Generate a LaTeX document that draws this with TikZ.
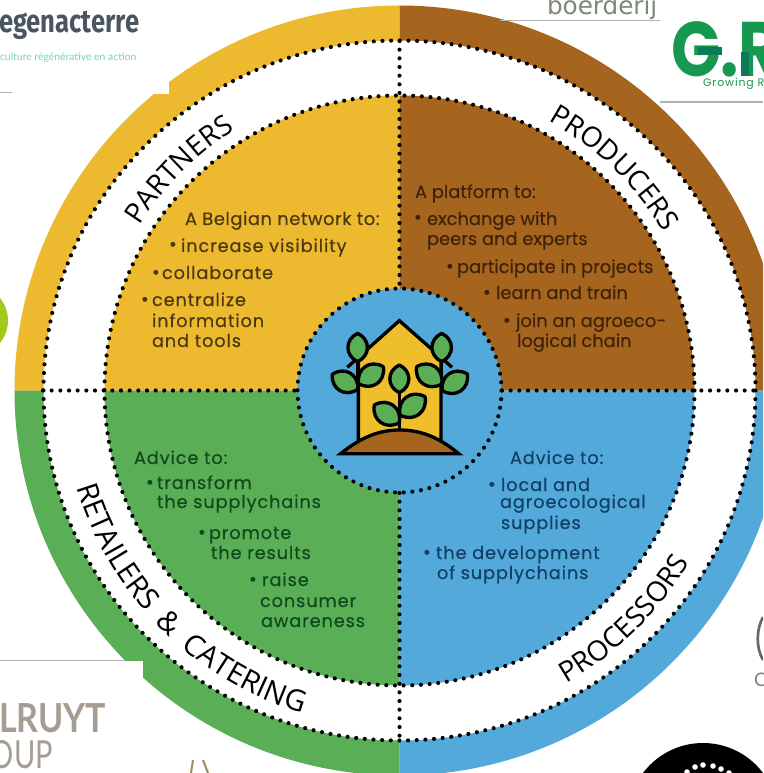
\documentclass[tikz,border=0pt]{standalone}
\usepackage{fontspec}
\usetikzlibrary{decorations.text}
\setmainfont{Poppins}
\newfontfamily\popf[FakeBold=0.25]{Poppins}
\newfontfamily\popw[LetterSpace=5,FakeBold=0.25]{Poppins}
\newfontfamily\popg[LetterSpace=8]{Poppins}
\newfontfamily\logof{Poppins}
\newfontfamily\arcf[LetterSpace=4]{Open Sans}
\newfontfamily\arcw[LetterSpace=23]{Open Sans}
\newfontfamily\firaf{Fira Sans}
\newfontfamily\latof{Lato}
\newfontfamily\dejaf{DejaVu Sans}
\definecolor{cyel}{HTML}{EDB92F}
\definecolor{cbro}{HTML}{A6651E}
\definecolor{cblu}{HTML}{52A9DA}
\definecolor{cgre}{HTML}{5AAE55}
\definecolor{tyel}{HTML}{4A3810}
\definecolor{tbro}{HTML}{3E2208}
\definecolor{tgre}{HTML}{0E4A1C}
\definecolor{tblu}{HTML}{113F66}
\definecolor{lreg}{HTML}{4A5560}
\definecolor{lteal}{HTML}{6FD4C8}
\definecolor{lboer}{HTML}{7C8A72}
\definecolor{lgr}{HTML}{16994F}
\definecolor{lgrd}{HTML}{0B7A58}
\definecolor{lcol}{HTML}{A59C92}
\definecolor{llime}{HTML}{A5C91A}
\definecolor{lmark}{HTML}{9C8B5C}
\tikzset{
 dotline/.style={draw=black,line width=3.1pt,line cap=round,dash pattern=on 0pt off 6.5pt},
 body/.style={anchor=base west,inner sep=0pt,outer sep=0pt,font=\popw\fontsize{13.3}{13.3}\selectfont},
 bodyb/.style={anchor=base west,inner sep=0pt,outer sep=0pt,font=\popf\fontsize{13.4}{13.4}\selectfont},
 bul/.style={anchor=base,inner sep=0pt,outer sep=0pt,font=\logof\fontsize{15}{15}\selectfont},
 logo/.style={anchor=base west,inner sep=0pt,outer sep=0pt},
 leaf/.style={draw=black,line width=2.5pt,fill=cgre,line join=round},
 ink/.style={draw=black,line width=2.5pt,line join=miter},
 rule/.style={draw=black!30,line width=0.8pt}
}
\begin{document}
\begin{tikzpicture}[x=0.75pt,y=-0.75pt]
\useasboundingbox (0,0) rectangle (763,773);
\clip (0,0) rectangle (763,773);
\coordinate (c) at (399.5,390.5);
% coloured disc
\fill[cyel] (c) -- ++(-180:385) arc (-180:-90:385) -- cycle;
\fill[cbro] (c) -- ++(-90:385) arc (-90:0:385) -- cycle;
\fill[cblu] (c) -- ++(0:385) arc (0:90:385) -- cycle;
\fill[cgre] (c) -- ++(90:385) arc (90:180:385) -- cycle;
% white ring
\fill[white] (c) ellipse [x radius=356,y radius=350];
% inner quadrants
\fill[cyel] (c) -- ++(-180:295) arc (-180:-90:295) -- cycle;
\fill[cbro] (c) -- ++(-90:295) arc (-90:0:295) -- cycle;
\fill[cblu] (c) -- ++(0:295) arc (0:90:295) -- cycle;
\fill[cgre] (c) -- ++(90:295) arc (90:180:295) -- cycle;
% centre
\fill[cblu] (c) circle (102);
% dotted rules
\draw[dotline] (c) ellipse [x radius=356,y radius=350];
\draw[dotline] (c) circle (295);
\draw[dotline] (c) circle (102);
\draw[dotline] (43,390.5) -- (297,390.5);
\draw[dotline] (502,390.5) -- (755,390.5);
\draw[dotline] (399.5,41) -- (399.5,288);
\draw[dotline] (399.5,493) -- (399.5,740);
% ring labels
\path[decorate,decoration={text along path,text align=center,text={|\arcf\fontsize{21}{21}\selectfont|PARTNERS}}]
 (c) ++(-170:308) arc (-170:-100:308);
\path[decorate,decoration={text along path,text align=center,text={|\arcf\fontsize{21}{21}\selectfont|PRODUCERS}}]
 (c) ++(-81:308) arc (-81:-11:308);
\path[decorate,decoration={text along path,text align=center,text={|\arcw\fontsize{22}{22}\selectfont|RETAILERS {\&} CATERING}}]
 (c) ++(-170:337) arc (-170:-280:337);
\path[decorate,decoration={text along path,text align=center,text={|\arcf\fontsize{21}{21}\selectfont|PROCESSORS}}]
 (c) ++(84.5:337) arc (84.5:6.5:337);
% house, in a 3x frame
\begin{scope}[shift={(290,280)},x=0.25pt,y=-0.25pt]
 \filldraw[ink,fill=cyel!92!yellow] (328,122) -- (205,232) -- (205,490) -- (453,490) -- (453,232) -- cycle;
 \draw[ink] (205,232) -- (172,262);
 \draw[ink] (453,232) -- (486,262);
 \draw[ink] (203,245) -- (203,330);
 \draw[ink] (455,245) -- (455,330);
 \draw[ink] (328,338) -- (328,455);
 \filldraw[ink,fill=cbro] (152,521) .. controls (215,470) and (270,450) .. (328,450) .. controls (390,450) and (445,470) .. (506,521) -- cycle;
 \foreach \ax/\ay/\bx/\by in {203/160/203/245,127/283/203/328,206/311/280/260,328/255/328/338,330/405/405/350,328/428/253/375,455/160/455/245,380/260/455/312,457/332/532/282}{
  \draw[leaf] (\ax,\ay) to[bend left=65,looseness=1.3] (\bx,\by) to[bend left=65,looseness=1.3] cycle;
 }
\end{scope}
% yellow block
\begin{scope}[every node/.append style={text=tyel}]
 \node[bodyb] (y0) at (185,225) {\addfontfeature{LetterSpace=3}A Belgian network to:};
 \node[bul] (yb1) at (173,252) {•};
 \node[body] (y1) at (181,252) {increase visibility};
 \node[bul] (yb2) at (156,279) {•};
 \node[body] (y2) at (162,279) {collaborate};
 \node[bul] (yb3) at (145,306) {•};
 \node[body] (y3) at (152,306) {centralize};
 \node[body] (y4) at (152,327) {information};
 \node[body] (y5) at (152,347) {and tools};
\end{scope}
\begin{scope}[every node/.append style={text=tbro}]
 \node[bodyb] (b0) at (415,198) {A platform to:};
 \node[bul] (bb1) at (418,225) {•};
 \node[bodyb] (b1) at (427,225) {exchange with};
 \node[bodyb] (b2) at (427,245) {peers and experts};
 \node[bul] (bb2) at (450,273) {•};
 \node[bodyb] (b3) at (457,273) {participate in projects};
 \node[bul] (bb3) at (487,299) {•};
 \node[bodyb] (b4) at (496,299) {learn and train};
 \node[bul] (bb4) at (507,327) {•};
 \node[bodyb] (b5) at (516,327) {join an agroeco-};
 \node[bodyb] (b6) at (517,347) {logical chain};
\end{scope}
\begin{scope}[every node/.append style={text=tgre}]
 \node[body] (g0) at (134,464) {Advice to:};
 \node[bul] (gb1) at (150,489) {•};
 \node[body] (g1) at (157,489) {transform};
 \node[body] (g2) at (157,508) {the supplychains};
 \node[bul] (gb2) at (202,539) {•};
 \node[body] (g3) at (209,539) {promote};
 \node[body] (g4) at (211,559) {the results};
 \node[bul] (gb3) at (253,586) {•};
 \node[body] (g5) at (262,586) {raise};
 \node[body] (g6) at (260,607) {consumer};
 \node[body] (g7) at (261,627) {awareness};
\end{scope}
\begin{scope}[every node/.append style={text=tblu}]
 \node[body] (l0) at (510,464) {Advice to:};
 \node[bul] (lb1) at (492,491) {•};
 \node[body] (l1) at (501,491) {local and};
 \node[body] (l2) at (500,508) {agroecological};
 \node[body] (l3) at (501,529) {supplies};
 \node[bul] (lb2) at (427,559) {•};
 \node[body] (l4) at (436,559) {the development};
 \node[body] (l5) at (437,579) {of supplychains};
\end{scope}
% pasted logos on white
\fill[white] (0,0) rectangle (169,94);
\fill[white] (0,661) rectangle (143,773);
\fill[white] (506,0) rectangle (660,20);
\fill[white] (660,20) rectangle (763,101);
\draw[rule] (0,92.5) -- (12,92.5);
\draw[rule] (0,660.5) -- (125,660.5);
\draw[rule] (500,20.5) -- (660,20.5);
\draw[rule] (660,102) -- (763,102);
\node[logo,text=lreg,font=\firaf\bfseries\fontsize{24}{24}\selectfont] (reg) at (-1,33) {\scalebox{0.8}[1]{egenacterre}};
\node[logo,text=lteal,font=\latof\fontsize{7.8}{7.8}\selectfont] (reg2) at (0,61) {culture régénérative en action};
\node[logo,text=lboer,font=\dejaf\fontsize{18.5}{18.5}\selectfont] (boer) at (547,15) {boerderij};
\node[logo,text=lgr,font=\logof\bfseries\fontsize{58}{58}\selectfont] (gr) at (671,77) {\scalebox{0.84}[1]{G.R}};
\fill[lgrd] (698,47) rectangle (722,55);
\fill[lgrd] (741,52) rectangle (749,76);
\node[logo,text=lgr,font=\popg\fontsize{8.2}{8.2}\selectfont] (gr2) at (703,87) {Growing R};
\node[logo,text=lcol,font=\latof\bfseries\fontsize{30}{30}\selectfont] (col) at (-1,732) {\scalebox{0.85}[1]{LRUYT}};
\node[logo,text=lcol,font=\latof\fontsize{29}{29}\selectfont] (oup) at (-9,768) {\scalebox{0.75}[1]{OUP}};
% cut-off neighbours
\fill[llime] (-27.6,320.5) circle (35.6);
\fill[black] (703,818) circle (75);
\foreach \dx/\dy in {687/772,695/767,703/765,713/766,721/769,729/773}{\fill[white] (\dx,\dy) circle (2.8);}
\draw[black!60,line width=2pt] (763,617) .. controls (756,630) and (756,648) .. (763,660);
\node[logo,text=black!50,font=\latof\fontsize{14}{14}\selectfont] (cc) at (754,686) {C};
\draw[lmark,line width=1.5pt] (191,773) -- (193,760);
\draw[lmark,line width=1.5pt] (203,760) -- (208,773);
\end{tikzpicture}
\end{document}
